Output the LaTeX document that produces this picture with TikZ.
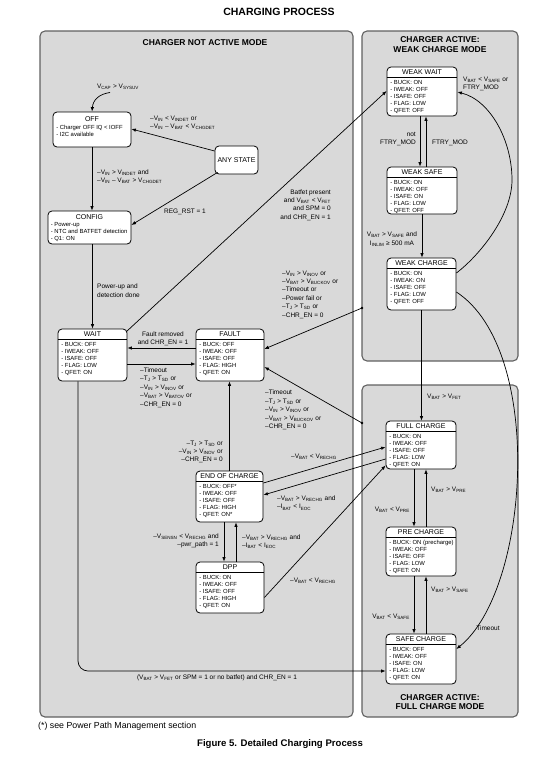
\documentclass[tikz,border=0pt]{standalone}
\usepackage{fontspec}
\setmainfont{Liberation Sans}
\usetikzlibrary{arrows.meta,calc}
\newcommand\sbs[1]{\textsubscript{#1}}
\tikzset{
 panel/.style={draw=black!62, line width=1.1pt, fill=black!15, rounded corners=5pt, inner sep=0pt},
 stbox/.style={draw=black, line width=0.8pt, fill=white, rounded corners=4pt, inner sep=0pt},
 sttitle/.style={font=\fontsize{7}{8}\selectfont, inner sep=0pt},
 stbody/.style={font=\fontsize{5.9}{7.1}\selectfont, align=left, inner sep=0pt, anchor=north west},
 lbl/.style={font=\fontsize{6.5}{8.4}\selectfont, inner sep=0pt},
 arr/.style={-{Latex[length=4.5pt,width=3.5pt]}, line width=0.7pt},
 ptitle/.style={font=\fontsize{8.5}{9.6}\selectfont\bfseries, align=center, inner sep=0pt},
}
\newcommand\hstate[7]{%
 \node[stbox, minimum width=#4pt, minimum height=#5pt] (#1) at (#2,#3) {};
 \draw[line width=0.6pt] ($(#1.north west)+(0,11)$) -- ($(#1.north east)+(0,11)$);
 \node[sttitle] (#1-t) at ($(#1.north)+(0,5.7)$) {#6};
 \node[stbody] (#1-b) at ($(#1.north west)+(3.5,13.2)$) {#7};
}
\begin{document}
\begin{tikzpicture}[x=1pt,y=-1pt]
\useasboundingbox (0,0) rectangle (557,761);
\fill[white] (0,0) rectangle (557,761);
% title
\node[font=\fontsize{10.5}{12}\selectfont\bfseries, inner sep=0pt] (maintitle) at (279,12) {CHARGING PROCESS};
% panels
\node[panel, minimum width=313pt, minimum height=686pt] (leftpanel) at (196.5,374) {};
\node[panel, minimum width=156pt, minimum height=330pt] (weakpanel) at (440,196) {};
\node[panel, minimum width=156pt, minimum height=332pt] (fullpanel) at (440,551) {};
\node[ptitle] (lefttitle) at (205,43) {CHARGER NOT ACTIVE MODE};
\node[ptitle] (weaktitle) at (440,44.5) {CHARGER ACTIVE:\\WEAK CHARGE MODE};
\node[ptitle] (fulltitle) at (440,702) {CHARGER ACTIVE:\\FULL CHARGE MODE};
% plain states
\node[stbox, minimum width=78pt, minimum height=35pt] (off) at (92,129.5) {};
\node[sttitle] (off-t) at ($(off.north)+(0,7)$) {OFF};
\node[stbody] (off-b) at ($(off.north west)+(3.5,13.2)$) {- Charger OFF IQ < IOFF\\- I2C available};
\node[stbox, minimum width=43pt, minimum height=28pt, font=\fontsize{7}{8}\selectfont] (anystate) at (236.5,160) {ANY STATE};
\node[stbox, minimum width=83pt, minimum height=33pt] (config) at (89.5,227.5) {};
\node[sttitle] (config-t) at ($(config.north)+(0,6)$) {CONFIG};
\node[stbody] (config-b) at ($(config.north west)+(3,11.5)$) {- Power-up\\- NTC and BATFET detection\\- Q1: ON};
% header states
\hstate{wait}{92.5}{355}{69}{52}{WAIT}{- BUCK: OFF\\- IWEAK: OFF\\- ISAFE: OFF\\- FLAG: LOW\\- QFET: ON}
\hstate{fault}{230}{355}{68}{52}{FAULT}{- BUCK: OFF\\- IWEAK: OFF\\- ISAFE: OFF\\- FLAG: HIGH\\- QFET: ON}
\hstate{eoc}{229.5}{496.5}{67}{51}{END OF CHARGE}{- BUCK: OFF*\\- IWEAK: OFF\\- ISAFE: OFF\\- FLAG: HIGH\\- QFET: ON*}
\hstate{dpp}{230}{587.5}{68}{51}{DPP}{- BUCK: ON\\- IWEAK: OFF\\- ISAFE: OFF\\- FLAG: HIGH\\- QFET: ON}
\hstate{weakwait}{422}{91.5}{70}{49}{WEAK WAIT}{- BUCK: ON\\- IWEAK: OFF\\- ISAFE: OFF\\- FLAG: LOW\\- QFET: OFF}
\hstate{weaksafe}{422}{190.5}{70}{47}{WEAK SAFE}{- BUCK: ON\\- IWEAK: OFF\\- ISAFE: ON\\- FLAG: LOW\\- QFET: OFF}
\hstate{weakcharge}{421.5}{284}{69}{52}{WEAK CHARGE}{- BUCK: ON\\- IWEAK: ON\\- ISAFE: OFF\\- FLAG: LOW\\- QFET: OFF}
\hstate{fullcharge}{421}{445}{70}{48}{FULL CHARGE}{- BUCK: ON\\- IWEAK: OFF\\- ISAFE: OFF\\- FLAG: LOW\\- QFET: ON}
\hstate{precharge}{421}{551.5}{70}{49}{PRE CHARGE}{- BUCK: ON (precharge)\\- IWEAK: OFF\\- ISAFE: OFF\\- FLAG: LOW\\- QFET: ON}
\hstate{safecharge}{421}{659}{70}{50}{SAFE CHARGE}{- BUCK: OFF\\- IWEAK: OFF\\- ISAFE: ON\\- FLAG: LOW\\- QFET: ON}
% coordinates
\coordinate (vcapstart) at (110,92.5);
\coordinate (wdot) at (362,308);
\coordinate (fdot) at (362,423);
\coordinate (ctop) at (512,180);
\fill (wdot) circle (1.4pt);
\fill (fdot) circle (1.4pt);
% connectors
\draw[arr] (vcapstart) .. controls (99,94) and (93,100) .. (off.north);
\draw[arr] ($(anystate.west)+(0,-9)$) -- ($(off.east)+(0,-0.5)$);
\draw[arr] ($(anystate.south west)+(3,-2)$) -- ($(config.east)+(0,-2.5)$);
\draw[arr] (off.south) -- (off.south |- config.north);
\draw[arr] (config.south -| wait.north) -- (wait.north);
\draw[arr] ($(wait.north east)+(-1,3)$) -- ($(weakwait.west)+(0,-0.5)$);
\draw[arr] ($(fault.west)+(0,-7)$) -- ($(wait.east)+(0,-7)$);
\draw[arr] ($(wait.east)+(0,9)$) -- ($(fault.west)+(0,9)$);
\draw[arr] (wdot) -- ($(fault.east)+(0,-6)$);
\draw[arr] (fdot) -- ($(fault.east)+(0,12)$);
\draw[arr] (eoc.north) -- (eoc.north |- fault.south);
\draw[arr] ($(eoc.east)+(0,-13.5)$) -- ($(fullcharge.west)+(0,2)$);
\draw[arr] ($(fullcharge.west)+(0,14)$) -- ($(eoc.east)+(0,-1.5)$);
\draw[arr] ($(dpp.east)+(0,10)$) -- ($(fullcharge.south west)+(0,-4)$);
\coordinate (e1) at ($(eoc.south)+(-5.5,0)$);
\coordinate (d1) at ($(dpp.north)+(6,0)$);
\draw[arr] (e1) -- (e1 |- dpp.north);
\draw[arr] (d1) -- (d1 |- eoc.south);
\coordinate (w1) at ($(wait.south)+(-14.5,0)$);
\draw[arr, rounded corners=10pt] (w1) |- ($(safecharge.west)+(0,12)$);
\coordinate (ww1) at ($(weakwait.south)+(-2,0)$);
\coordinate (ws1) at ($(weaksafe.north)+(4,0)$);
\draw[arr] (ww1) -- (ww1 |- weaksafe.north);
\draw[arr] (ws1) -- (ws1 |- weakwait.south);
\draw[arr] (weaksafe.south) -- (weaksafe.south |- weakcharge.north);
\draw[arr] ($(weakcharge.east)+(0,-11)$) .. controls (480,255) and (512,215) .. (ctop) .. controls (512,140) and (490,100) .. ($(weakwait.east)+(0,0.5)$);
\draw[arr] (weakcharge.south) -- (weakcharge.south |- fullcharge.north);
\draw[arr] ($(weakcharge.east)+(0,8)$) .. controls (545,350) and (530,590) .. ($(safecharge.east)+(0,-10)$);
\coordinate (fc1) at ($(fullcharge.south)+(-7,0)$);
\coordinate (pc1) at ($(precharge.north)+(5,0)$);
\coordinate (pc2) at ($(precharge.south)+(-7,0)$);
\coordinate (sc1) at ($(safecharge.north)+(5,0)$);
\draw[arr] (fc1) -- (fc1 |- precharge.north);
\draw[arr] (pc1) -- (pc1 |- fullcharge.south);
\draw[arr] (pc2) -- (pc2 |- safecharge.north);
\draw[arr] (sc1) -- (sc1 |- precharge.south);
% labels
\node[lbl] (l1) at (118,87) {V\sbs{CAP} > V\sbs{SYSUV}};
\node[lbl, anchor=west, align=left] (l2) at (150,123) {–V\sbs{IN} < V\sbs{INDET} or\\–V\sbs{IN} – V\sbs{BAT} < V\sbs{CHGDET}};
\node[lbl, anchor=west, align=left] (l3) at (97,176.5) {–V\sbs{IN} > V\sbs{INDET} and\\–V\sbs{IN} – V\sbs{BAT} > V\sbs{CHGDET}};
\node[lbl] (l4) at (185,212) {REG\_RST = 1};
\node[lbl, anchor=west, align=left] (l5) at (97,290.5) {Power-up and\\detection done};
\node[lbl, anchor=east, align=right] (l6) at (331,205) {Batfet present\\and V\sbs{BAT} < V\sbs{FET}\\and SPM = 0\\and CHR\_EN = 1};
\node[lbl, align=center] (l7) at (163,338.5) {Fault removed\\and CHR\_EN = 1};
\node[lbl, anchor=west, align=left] (l8) at (140,387.5) {–Timeout\\–T\sbs{J} > T\sbs{SD} or\\–V\sbs{IN} > V\sbs{INOV} or\\–V\sbs{BAT} > V\sbs{BATOV} or\\–CHR\_EN = 0};
\node[lbl, anchor=west, align=left] (l9) at (282,294.5) {–V\sbs{IN} > V\sbs{INOV} or\\–V\sbs{BAT} > V\sbs{BUCKOV} or\\–Timeout or\\–Power fail or\\–T\sbs{J} > T\sbs{SD} or\\–CHR\_EN = 0};
\node[lbl, anchor=west, align=left] (l10) at (265,410) {–Timeout\\–T\sbs{J} > T\sbs{SD} or\\–V\sbs{IN} > V\sbs{INOV} or\\–V\sbs{BAT} > V\sbs{BUCKOV} or\\–CHR\_EN = 0};
\node[lbl, anchor=east, align=right] (l11) at (223,452) {–T\sbs{J} > T\sbs{SD} or\\–V\sbs{IN} > V\sbs{INOV} or\\–CHR\_EN = 0};
\node[lbl] (l12) at (314,457) {–V\sbs{BAT} < V\sbs{RECHG}};
\node[lbl, anchor=west, align=left] (l13) at (277,503) {–V\sbs{BAT} > V\sbs{RECHG} and\\–I\sbs{BAT} < I\sbs{EOC}};
\node[lbl, anchor=west] (l14) at (290,581) {–V\sbs{BAT} < V\sbs{RECHG}};
\node[lbl, anchor=east, align=right] (l15) at (219,541) {–V\sbs{SENSN} < V\sbs{RECHG} and\\–pwr\_path = 1};
\node[lbl, anchor=west, align=left] (l16) at (242,541.5) {–V\sbs{BAT} > V\sbs{RECHG} and\\–I\sbs{BAT} < I\sbs{EOC}};
\node[lbl] (l17) at (217,677.5) {(V\sbs{BAT} > V\sbs{FET} or SPM = 1 or no batfet) and CHR\_EN = 1};
\node[lbl, anchor=east, align=right] (l18) at (416,139) {not\\FTRY\_MOD};
\node[lbl, anchor=west] (l19) at (432,143) {FTRY\_MOD};
\node[lbl, align=center] (l20) at (392,239) {V\sbs{BAT} > V\sbs{SAFE} and\\I\sbs{INLIM} ≥ 500 mA};
\node[lbl, anchor=west, align=left] (l21) at (463,84) {V\sbs{BAT} < V\sbs{SAFE} or\\FTRY\_MOD};
\node[lbl, anchor=west] (l22) at (427,397) {V\sbs{BAT} > V\sbs{FET}};
\node[lbl] (l23) at (488,628) {Timeout};
\node[lbl, anchor=east] (l24) at (410,510) {V\sbs{BAT} < V\sbs{PRE}};
\node[lbl, anchor=west] (l25) at (431,490) {V\sbs{BAT} > V\sbs{PRE}};
\node[lbl, anchor=east] (l26) at (410,617) {V\sbs{BAT} < V\sbs{SAFE}};
\node[lbl, anchor=west] (l27) at (431,590) {V\sbs{BAT} > V\sbs{SAFE}};
% footnote & caption
\node[font=\fontsize{8.8}{10}\selectfont, anchor=west, inner sep=0pt] (foot) at (38,726) {(*) see Power Path Management section};
\node[font=\fontsize{9.6}{11}\selectfont\bfseries, inner sep=0pt] (caption) at (280,744) {Figure 5. Detailed Charging Process};
\end{tikzpicture}
\end{document}
